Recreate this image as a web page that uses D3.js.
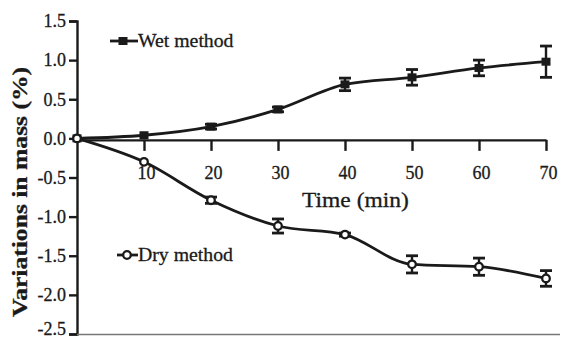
<!DOCTYPE html>
<html>
<head>
<meta charset="utf-8">
<script src="https://cdn.jsdelivr.net/npm/d3@7"></script>
<style>
  html, body { margin: 0; padding: 0; background: #fff; }
  svg { display: block; }
  text { font-family: "Liberation Serif", "DejaVu Serif", serif; fill: #1a1a1a; stroke: #1a1a1a; stroke-width: 0.3px; }
</style>
</head>
<body>
<svg id="chart" width="563" height="339"></svg>
<script>
// Mass variation over time for the two methods (mean ± error)
const times = [0, 10, 20, 30, 40, 50, 60, 70];
const wetValues = [0.0, 0.04, 0.15, 0.37, 0.69, 0.78, 0.90, 0.98];
const wetErrors = [0, 0, 0.03, 0.03, 0.08, 0.10, 0.10, 0.20];
const dryValues = [0.0, -0.30, -0.79, -1.12, -1.23, -1.61, -1.64, -1.79];
const dryErrors = [0, 0, 0.04, 0.09, 0.02, 0.11, 0.11, 0.10];
const xTicks = [10, 20, 30, 40, 50, 60, 70];
const yTicks = [1.5, 1.0, 0.5, 0.0, -0.5, -1.0, -1.5, -2.0, -2.5];

const ink = "#1a1a1a";
const serif = '"Liberation Serif", "DejaVu Serif", serif';
const svg = d3.select("#chart");

const x = d3.scaleLinear().domain([0, 70]).range([77, 546]);
const y = d3.scaleLinear().domain([-2.5, 1.5]).range([334, 21]);

// Y axis
const fmt = d => (d < 0 ? "-" : "") + d3.format(".1f")(Math.abs(d));
const yAxis = d3.axisLeft(y).tickValues(yTicks).tickFormat(fmt).tickSize(8).tickPadding(3);
const gy = svg.append("g").attr("transform", `translate(${x(0)},0)`).call(yAxis);
gy.select(".domain").attr("stroke", ink).attr("stroke-width", 2.4);
gy.selectAll(".tick line").attr("stroke", ink).attr("stroke-width", 2.4);
gy.selectAll(".tick text").attr("font-size", 18).style("font-family", serif).attr("fill", ink)
  .attr("dy", d => d === -2.5 ? "0.0em" : "0.32em");

// X axis along the zero line
const xAxis = d3.axisBottom(x).tickValues(xTicks).tickFormat(d3.format("d")).tickSize(11).tickSizeOuter(0).tickPadding(15);
const gx = svg.append("g").attr("transform", `translate(0,${y(0) + 1.5})`).call(xAxis);
gx.select(".domain").attr("stroke", ink).attr("stroke-width", 2.4);
gx.selectAll(".tick line").attr("stroke", ink).attr("stroke-width", 2.4);
gx.selectAll(".tick text").attr("font-size", 18).style("font-family", serif).attr("fill", ink)
  .attr("dx", 2);

// Bottom frame line
svg.append("line")
  .attr("x1", x(0)).attr("x2", 560)
  .attr("y1", y(-2.5) + 0.5).attr("y2", y(-2.5) + 0.5)
  .attr("stroke", "#777").attr("stroke-width", 1.5);

// Axis titles (slightly widened glyphs)
svg.append("text")
  .attr("transform", "translate(302,207) scale(1.12,1)")
  .attr("font-size", 21)
  .text("Time (min)");
svg.append("text")
  .attr("transform", "translate(27,317) rotate(-90) scale(1.22,1)")
  .attr("font-size", 21).attr("font-weight", "bold")
  .text("Variations in mass (%)");

const line = d3.line().x(d => x(d.t)).y(d => y(d.v)).curve(d3.curveMonotoneX);

function drawSeries(values, errors, marker) {
  const pts = times.map((t, i) => ({ t, v: values[i], e: errors[i] }));
  svg.append("path").datum(pts)
    .attr("d", line).attr("fill", "none")
    .attr("stroke", ink).attr("stroke-width", 2.8);

  const eb = svg.append("g").selectAll("g").data(pts.filter(d => d.e > 0)).join("g");
  eb.append("line")
    .attr("x1", d => x(d.t)).attr("x2", d => x(d.t))
    .attr("y1", d => y(d.v + d.e)).attr("y2", d => y(d.v - d.e))
    .attr("stroke", ink).attr("stroke-width", 2.4);
  [1, -1].forEach(s => {
    eb.append("line")
      .attr("x1", d => x(d.t) - 6).attr("x2", d => x(d.t) + 6)
      .attr("y1", d => y(d.v + s * d.e)).attr("y2", d => y(d.v + s * d.e))
      .attr("stroke", ink).attr("stroke-width", 2.8);
  });

  const mg = svg.append("g");
  pts.forEach(d => marker(mg, x(d.t), y(d.v)));
}

const squareMarker = (g, cx, cy) => g.append("rect")
  .attr("x", cx - 4.5).attr("y", cy - 4).attr("width", 9).attr("height", 8)
  .attr("fill", ink);
const circleMarker = (g, cx, cy) => g.append("circle")
  .attr("cx", cx).attr("cy", cy).attr("r", 3.8)
  .attr("fill", "#fff").attr("stroke", ink).attr("stroke-width", 2.3);

drawSeries(wetValues, wetErrors, squareMarker);
drawSeries(dryValues, dryErrors, circleMarker);

// Legends
function legend(label, ly, x1, marker, mx) {
  svg.append("line").attr("x1", x1).attr("x2", 138).attr("y1", ly).attr("y2", ly)
    .attr("stroke", ink).attr("stroke-width", 2.8);
  marker(svg, mx, ly);
  svg.append("text").attr("transform", `translate(138,${ly + 6}) scale(1.04,1)`)
    .attr("font-size", 19).text(label);
}
legend("Wet method", 41, 110, squareMarker, 123);
legend("Dry method", 255, 117, circleMarker, 127);
</script>
</body>
</html>
